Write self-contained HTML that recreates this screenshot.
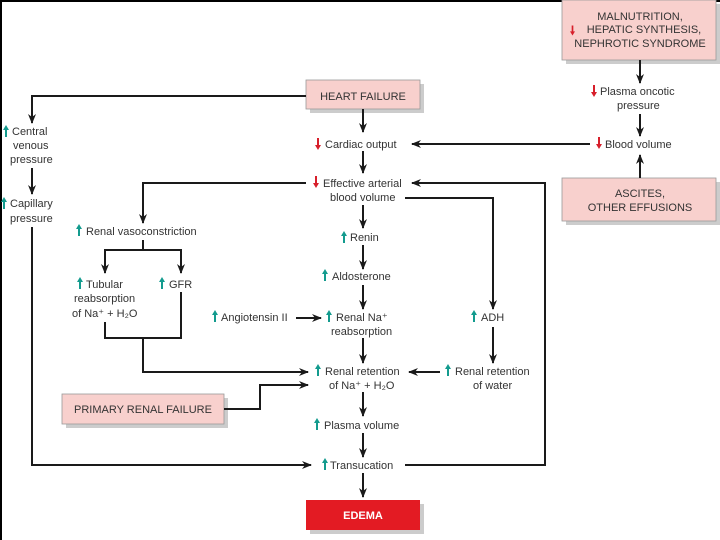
<!DOCTYPE html>
<html><head><meta charset="utf-8"><style>
html,body{margin:0;padding:0;background:#fff;}
svg{display:block;}
text{font-family:"Liberation Sans",sans-serif;font-size:11px;fill:#333;}
</style></head><body>
<svg width="720" height="540" viewBox="0 0 720 540" xmlns="http://www.w3.org/2000/svg">
<defs>
<marker id="ah" markerWidth="10" markerHeight="8" refX="9" refY="4" orient="auto" markerUnits="userSpaceOnUse">
<path d="M0,0 L10,4 L0,8 L3,4 Z" fill="#1a1a1a"/></marker>
<symbol id="up" viewBox="0 0 6 12" overflow="visible"><path d="M3,0 L6,5 L4,5 L4,12 L2,12 L2,5 L0,5 Z" fill="#139b8e"/></symbol>
<symbol id="dn" viewBox="0 0 6 12" overflow="visible"><path d="M3,12 L6,7 L4,7 L4,0 L2,0 L2,7 L0,7 Z" fill="#d71f2b"/></symbol>
</defs>
<rect x="0" y="0" width="720" height="2" fill="#000"/>
<rect x="0" y="0" width="2" height="540" fill="#000"/>

<g>
<rect x="310" y="84" width="114" height="29" fill="#ccc"/>
<rect x="306" y="80" width="114" height="29" fill="#f8d0cd" stroke="#999" stroke-width="0.8"/>
<text x="363" y="100" text-anchor="middle">HEART FAILURE</text>

<rect x="566" y="4" width="154" height="60" fill="#ccc"/>
<rect x="562" y="0" width="154" height="60" fill="#f8d0cd" stroke="#999" stroke-width="0.8"/>
<text x="640" y="20" text-anchor="middle">MALNUTRITION,</text>
<text x="644" y="33" text-anchor="middle">HEPATIC SYNTHESIS,</text>
<text x="640" y="47" text-anchor="middle">NEPHROTIC SYNDROME</text>

<rect x="566" y="182" width="154" height="43" fill="#ccc"/>
<rect x="562" y="178" width="154" height="43" fill="#f8d0cd" stroke="#999" stroke-width="0.8"/>
<text x="640" y="197" text-anchor="middle">ASCITES,</text>
<text x="640" y="211" text-anchor="middle">OTHER EFFUSIONS</text>

<rect x="66" y="398" width="162" height="30" fill="#ccc"/>
<rect x="62" y="394" width="162" height="30" fill="#f8d0cd" stroke="#999" stroke-width="0.8"/>
<text x="143" y="413" text-anchor="middle">PRIMARY RENAL FAILURE</text>

<rect x="310" y="504" width="114" height="30" fill="#ccc"/>
<rect x="306" y="500" width="114" height="30" fill="#e31b23"/>
<text x="363" y="519" text-anchor="middle" style="fill:#fff;font-weight:bold">EDEMA</text>
</g>
<use href="#dn" x="570" y="25" width="5" height="11"/>

<g stroke="#1a1a1a" stroke-width="2" fill="none">
<path d="M363,109 V132" marker-end="url(#ah)"/>
<path d="M363,151 V173" marker-end="url(#ah)"/>
<path d="M363,205 V228" marker-end="url(#ah)"/>
<path d="M363,245 V269" marker-end="url(#ah)"/>
<path d="M363,285 V309" marker-end="url(#ah)"/>
<path d="M363,338 V363" marker-end="url(#ah)"/>
<path d="M363,392 V416" marker-end="url(#ah)"/>
<path d="M363,433 V457" marker-end="url(#ah)"/>
<path d="M363,473 V497" marker-end="url(#ah)"/>
<path d="M306,96 H32 V123" marker-end="url(#ah)"/>
<path d="M32,168 V194" marker-end="url(#ah)"/>
<path d="M32,227 V465 H311" marker-end="url(#ah)"/>
<path d="M306,183 H143 V223" marker-end="url(#ah)"/>
<path d="M143,240 V250 M105,250 H181"/>
<path d="M105,249 V273" marker-end="url(#ah)"/>
<path d="M181,249 V273" marker-end="url(#ah)"/>
<path d="M105,322 V338 H181 V292"/>
<path d="M143,338 V372 H308" marker-end="url(#ah)"/>
<path d="M224,409 H260 V385 H308" marker-end="url(#ah)"/>
<path d="M296,318 H321" marker-end="url(#ah)"/>
<path d="M405,198 H493 V309" marker-end="url(#ah)"/>
<path d="M493,327 V363" marker-end="url(#ah)"/>
<path d="M440,372 H409" marker-end="url(#ah)"/>
<path d="M590,144 H412" marker-end="url(#ah)"/>
<path d="M640,60 V83" marker-end="url(#ah)"/>
<path d="M640,114 V136" marker-end="url(#ah)"/>
<path d="M640,178 V155" marker-end="url(#ah)"/>
<path d="M405,465 H545 V183 H412" marker-end="url(#ah)"/>
</g>

<use href="#dn" x="315" y="138" width="6" height="12"/>
<text x="325" y="148">Cardiac output</text>
<use href="#dn" x="313" y="176" width="6" height="12"/>
<text x="323" y="187">Effective arterial</text>
<text x="330" y="201">blood volume</text>
<use href="#up" x="341" y="231" width="6" height="12"/>
<text x="350" y="241">Renin</text>
<use href="#up" x="322" y="269" width="6" height="12"/>
<text x="332" y="280">Aldosterone</text>
<use href="#up" x="326" y="310" width="6" height="12"/>
<text x="336" y="321">Renal Na⁺</text>
<text x="331" y="335">reabsorption</text>
<use href="#up" x="315" y="364" width="6" height="12"/>
<text x="325" y="375">Renal retention</text>
<text x="329" y="389">of Na⁺ + H₂O</text>
<use href="#up" x="314" y="418" width="6" height="12"/>
<text x="324" y="429">Plasma volume</text>
<use href="#up" x="322" y="458" width="6" height="12"/>
<text x="330" y="469">Transucation</text>

<use href="#up" x="3" y="125" width="6" height="12"/>
<text x="12" y="135">Central</text>
<text x="13" y="149">venous</text>
<text x="10" y="163">pressure</text>
<use href="#up" x="1" y="197" width="6" height="12"/>
<text x="10" y="207">Capillary</text>
<text x="10" y="222">pressure</text>

<use href="#up" x="76" y="224" width="6" height="12"/>
<text x="86" y="235">Renal vasoconstriction</text>
<use href="#up" x="77" y="277" width="6" height="12"/>
<text x="86" y="288">Tubular</text>
<text x="74" y="302">reabsorption</text>
<text x="72" y="317">of Na⁺ + H₂O</text>
<use href="#up" x="159" y="277" width="6" height="12"/>
<text x="169" y="288">GFR</text>
<use href="#up" x="212" y="310" width="6" height="12"/>
<text x="221" y="321">Angiotensin II</text>
<use href="#up" x="471" y="310" width="6" height="12"/>
<text x="481" y="321">ADH</text>
<use href="#up" x="445" y="364" width="6" height="12"/>
<text x="455" y="375">Renal retention</text>
<text x="473" y="389">of water</text>

<use href="#dn" x="591" y="85" width="6" height="12"/>
<text x="600" y="95">Plasma oncotic</text>
<text x="617" y="109">pressure</text>
<use href="#dn" x="596" y="137" width="6" height="12"/>
<text x="605" y="148">Blood volume</text>
</svg>
</body></html>
